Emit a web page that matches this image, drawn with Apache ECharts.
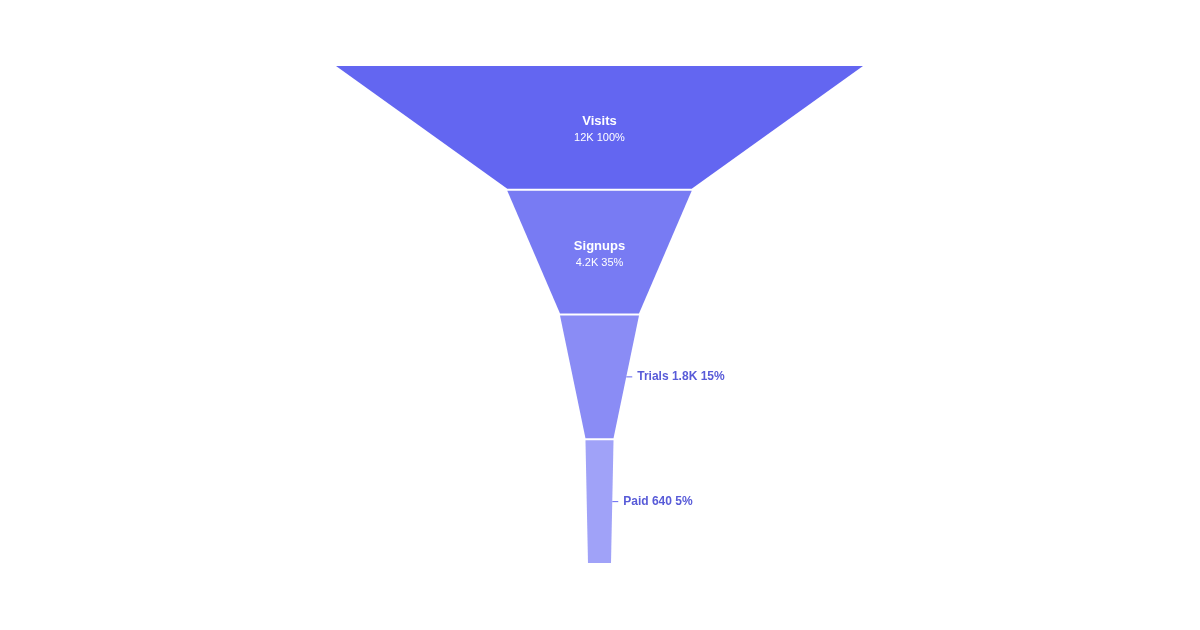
<!DOCTYPE html>
<html>
<head>
<meta charset="utf-8">
<script src="https://cdn.jsdelivr.net/npm/echarts@6/dist/echarts.min.js"></script>
<style>
  html,body{margin:0;padding:0;background:#fff;}
  #chart{width:1200px;height:630px;}
</style>
</head>
<body>
<div id="chart"></div>
<script>
// funnel stages, top to bottom
const stages = ["Visits", "Signups", "Trials", "Paid"];
const stageValues = [12000, 4200, 1800, 640];
const stageColors = ["#6366f1", "#787bf3", "#8a8cf5", "#a0a2f8"];
// first two stages get their label inside the shape
const insideCount = 2;

const total = stageValues[0];

function shortNum(v) {
  if (v >= 1000) {
    let k = v / 1000;
    return (Math.round(k * 10) / 10) + "K";
  }
  return String(v);
}
function pct(v) {
  return Math.round(v / total * 100) + "%";
}

const font = "'Liberation Sans', Arial, Helvetica, sans-serif";

const funnelData = stages.map((name, i) => {
  let item = {
    name: name,
    value: stageValues[i],
    itemStyle: {color: stageColors[i]}
  };
  if (i < insideCount) {
    item.label = {
      position: "inside",
      padding: [5, 0, 0, 0],
      formatter: p => "{n|" + p.name + "}\n{v|" + shortNum(p.value) + " " + pct(p.value) + "}",
      rich: {
        n: {color: "#fff", fontSize: 13, fontWeight: "bold", fontFamily: font, lineHeight: 17},
        v: {color: "#fff", fontSize: 11, fontFamily: font, lineHeight: 16}
      }
    };
    item.labelLine = {show: false};
  } else {
    item.label = {
      position: "right",
      padding: [2, 0, 0, 0],
      formatter: p => p.name + " " + shortNum(p.value) + " " + pct(p.value),
      color: "#585bd8",
      fontSize: 12,
      fontWeight: "bold",
      fontFamily: font
    };
    item.labelLine = {show: true, length: 6, lineStyle: {color: "#6366f1", width: 1}};
  }
  return item;
});

let chart = echarts.init(document.getElementById("chart"), null, {renderer: "canvas"});

let option = {
  backgroundColor: "#fff",
  animation: false,
  series: [{
    type: "funnel",
    left: 336,
    top: 66,
    width: 527,
    height: 497,
    sort: "none",
    gap: 2,
    min: 525,
    max: 12000,
    minSize: 23,
    maxSize: "100%",
    funnelAlign: "center",
    itemStyle: {borderWidth: 0},
    emphasis: {disabled: true},
    data: funnelData
  }]
};

chart.setOption(option);
</script>
</body>
</html>
